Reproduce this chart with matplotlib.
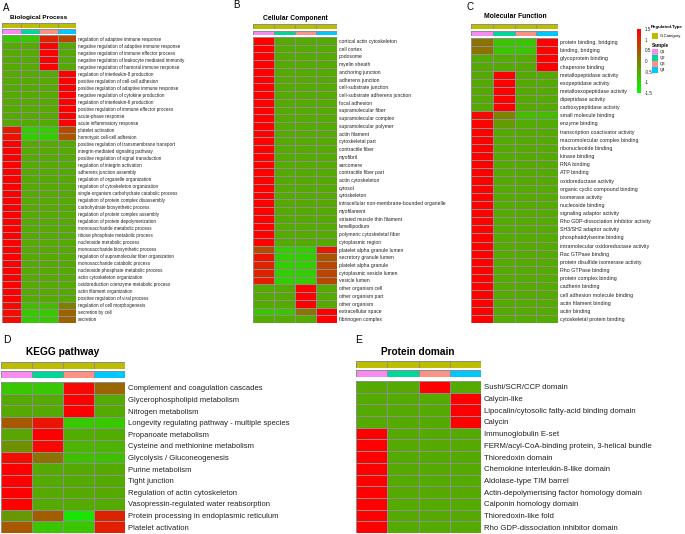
import numpy as np
import matplotlib
matplotlib.use("Agg")
import matplotlib.pyplot as plt
from matplotlib.colors import LinearSegmentedColormap, ListedColormap, Normalize
from matplotlib.patches import Rectangle
import matplotlib.cm as cm

plt.rcParams['font.family'] = ['Liberation Sans', 'DejaVu Sans']

samples = ["Q1", "Q2", "Q3", "Q4"]
sample_colors = ["#F88BF0", "#00D89A", "#FA9385", "#00C8FF"]
category_color = "#BDBD00"

bp_terms = [
    "regulation of adaptive immune response",
    "negative regulation of adaptive immune response",
    "negative regulation of immune effector process",
    "negative regulation of leukocyte mediated immunity",
    "negative regulation of humoral immune response",
    "regulation of interleukin-8 production",
    "positive regulation of cell-cell adhesion",
    "positive regulation of adaptive immune response",
    "negative regulation of cytokine production",
    "regulation of interleukin-6 production",
    "positive regulation of immune effector process",
    "acute-phase response",
    "acute inflammatory response",
    "platelet activation",
    "homotypic cell-cell adhesion",
    "positive regulation of transmembrane transport",
    "integrin-mediated signaling pathway",
    "positive regulation of signal transduction",
    "regulation of integrin activation",
    "adherens junction assembly",
    "regulation of organelle organization",
    "regulation of cytoskeleton organization",
    "single-organism carbohydrate catabolic process",
    "regulation of protein complex disassembly",
    "carbohydrate biosynthetic process",
    "regulation of protein complex assembly",
    "regulation of protein depolymerization",
    "monosaccharide metabolic process",
    "ribose phosphate metabolic process",
    "nucleoside metabolic process",
    "monosaccharide biosynthetic process",
    "regulation of supramolecular fiber organization",
    "monosaccharide catabolic process",
    "nucleoside phosphate metabolic process",
    "actin cytoskeleton organization",
    "oxidoreduction coenzyme metabolic process",
    "actin filament organization",
    "positive regulation of viral process",
    "regulation of cell morphogenesis",
    "secretion by cell",
    "secretion",
]
bp_values = (
    [[-0.85, -0.85, 1.05, 0.65]]
    + [[-0.5, -0.5, 1.5, -0.5]] * 4
    + [[-0.5, -0.5, -0.5, 1.5]] * 8
    + [[1.2, -0.9, -0.9, 0.6], [1.3, -0.9, -0.9, 0.5]]
    + [[1.5, -0.5, -0.5, -0.5]] * 23
    + [[1.4, -0.7, -0.7, 0.0], [1.35, -0.85, -0.85, 0.35], [1.35, -0.85, -0.85, 0.35]]
)

cc_terms = [
    "cortical actin cytoskeleton", "cell cortex", "podosome", "myelin sheath",
    "anchoring junction", "adherens junction", "cell-substrate junction",
    "cell-substrate adherens junction", "focal adhesion", "supramolecular fiber",
    "supramolecular complex", "supramolecular polymer", "actin filament",
    "cytoskeletal part", "contractile fiber", "myofibril", "sarcomere",
    "contractile fiber part", "actin cytoskeleton", "cytosol", "cytoskeleton",
    "intracellular non-membrane-bounded organelle", "myofilament",
    "striated muscle thin filament", "lamellipodium", "polymeric cytoskeletal fiber",
    "cytoplasmic region", "platelet alpha granule lumen", "secretory granule lumen",
    "platelet alpha granule", "cytoplasmic vesicle lumen", "vesicle lumen",
    "other organism cell", "other organism part", "other organism",
    "extracellular space", "fibrinogen complex",
]
cc_values = (
    [[1.5, -0.5, -0.5, -0.5]] * 27
    + [[0.6, -0.9, -0.9, 1.2], [1.3, -0.9, -0.9, 0.5], [1.1, -0.9, -0.9, 0.7],
       [1.1, -0.9, -0.9, 0.7], [1.15, -0.9, -0.9, 0.65]]
    + [[-0.5, -0.5, 1.5, -0.5]] * 3
    + [[-0.8, -0.8, 0.1, 1.5], [-0.5, -0.5, -0.5, 1.5]]
)

mf_terms = [
    "protein binding, bridging", "binding, bridging", "glycoprotein binding",
    "chaperone binding", "metallopeptidase activity", "exopeptidase activity",
    "metalloexopeptidase activity", "dipeptidase activity", "carboxypeptidase activity",
    "small molecule binding", "enzyme binding", "transcription coactivator activity",
    "macromolecular complex binding", "ribonucleotide binding", "kinase binding",
    "RNA binding", "ATP binding", "oxidoreductase activity",
    "organic cyclic compound binding", "isomerase activity", "nucleoside binding",
    "signaling adaptor activity", "Rho GDP-dissociation inhibitor activity",
    "SH3/SH2 adaptor activity", "phosphatidylserine binding",
    "intramolecular oxidoreductase activity", "Rac GTPase binding",
    "protein disulfide isomerase activity", "Rho GTPase binding",
    "protein complex binding", "cadherin binding", "cell adhesion molecule binding",
    "actin filament binding", "actin binding", "cytoskeletal protein binding",
]
mf_values = (
    [[0.15, -0.8, -0.8, 1.45]] * 2
    + [[-0.5, -0.5, -0.5, 1.5]] * 2
    + [[-0.5, 1.5, -0.5, -0.5]] * 5
    + [[1.4, -0.05, -0.7, -0.7], [1.45, -0.35, -0.55, -0.55]]
    + [[1.5, -0.5, -0.5, -0.5]] * 24
)

kegg_terms = [
    "Complement and coagulation cascades", "Glycerophospholipid metabolism",
    "Nitrogen metabolism", "Longevity regulating pathway - multiple species",
    "Propanoate metabolism", "Cysteine and methionine metabolism",
    "Glycolysis / Gluconeogenesis", "Purine metabolism", "Tight junction",
    "Regulation of actin cytoskeleton", "Vasopressin-regulated water reabsorption",
    "Protein processing in endoplasmic reticulum", "Platelet activation",
]
kegg_values = [
    [-0.85, -0.85, 1.4, 0.3],
    [-0.5, -0.5, 1.5, -0.5],
    [-0.5, -0.5, 1.5, -0.5],
    [0.45, 1.25, -0.85, -0.85],
    [-0.45, 1.5, -0.55, -0.55],
    [-0.2, 1.4, -0.6, -0.6],
    [1.35, 0.15, -0.75, -0.75],
    [1.5, -0.5, -0.5, -0.5],
    [1.5, -0.5, -0.5, -0.5],
    [1.5, -0.5, -0.5, -0.5],
    [1.5, -0.5, -0.5, -0.5],
    [-0.3, 0.4, -1.2, 1.1],
    [0.45, -0.8, -0.8, 1.15],
]

pd_terms = [
    "Sushi/SCR/CCP domain", "Calycin-like",
    "Lipocalin/cytosolic fatty-acid binding domain", "Calycin",
    "Immunoglobulin E-set", "FERM/acyl-CoA-binding protein, 3-helical bundle",
    "Thioredoxin domain", "Chemokine interleukin-8-like domain",
    "Aldolase-type TIM barrel", "Actin-depolymerising factor homology domain",
    "Calponin homology domain", "Thioredoxin-like fold",
    "Rho GDP-dissociation inhibitor domain",
]
pd_values = (
    [[-0.5, -0.5, 1.5, -0.5]]
    + [[-0.5, -0.5, -0.5, 1.5]] * 3
    + [[1.5, -0.5, -0.5, -0.5]] * 9
)

W, H = 685, 534
fig = plt.figure(figsize=(W / 100, H / 100), dpi=100)
cmap = LinearSegmentedColormap.from_list("gr", ["#00FF00", "#FF0000"])
norm = Normalize(-1.5, 1.5)
GRID = "#8E8E8E"


def px_axes(x0, y0, x1, y1):
    return fig.add_axes([x0 / W, 1 - y1 / H, (x1 - x0) / W, (y1 - y0) / H])


def strip(x0, y0, x1, y1, colors, lw):
    ax = px_axes(x0, y0, x1, y1)
    ax.pcolormesh(np.arange(len(colors))[None, :], cmap=ListedColormap(colors),
                  vmin=-0.5, vmax=len(colors) - 0.5, edgecolors=GRID, linewidth=lw)
    ax.set_xticks([]); ax.set_yticks([])
    for s in ax.spines.values():
        s.set_visible(False)
    ax.set_xlim(0, len(colors)); ax.set_ylim(0, 1)


def panel(x0, x1, yr0, yr1, ys0, ys1, y0, y1, terms, values, fs, lw=0.5, pad=1.5):
    strip(x0, yr0, x1, yr1, [category_color] * len(samples), lw)
    strip(x0, ys0, x1, ys1, sample_colors, lw)
    ax = px_axes(x0, y0, x1, y1)
    data = np.array(values)
    ax.pcolormesh(data, cmap=cmap, norm=norm, edgecolors=GRID, linewidth=lw)
    ax.set_xlim(0, data.shape[1]); ax.set_ylim(data.shape[0], 0)
    ax.set_xticks([])
    ax.set_yticks(np.arange(len(terms)) + 0.5)
    ax.set_yticklabels(terms, fontsize=fs, color="#222222")
    ax.yaxis.tick_right()
    ax.tick_params(axis="y", length=0, pad=pad)
    for s in ax.spines.values():
        s.set_visible(False)
    return ax


panel(2, 76, 23, 28, 29, 33.5, 35, 323, bp_terms, bp_values, 3.3, lw=0.45, pad=1.2)
panel(253, 337, 24, 29, 30.5, 35, 37, 323, cc_terms, cc_values, 3.6, lw=0.45, pad=1.2)
panel(471, 558, 24, 29, 30.5, 35.5, 38, 323, mf_terms, mf_values, 3.8, lw=0.45, pad=1.2)
panel(1, 125, 362, 369, 370.5, 378, 382, 533, kegg_terms, kegg_values, 5.5, lw=0.6, pad=2)
panel(356, 481, 361, 368, 369.5, 377, 381, 533, pd_terms, pd_values, 5.6, lw=0.6, pad=2)

# colorbar
cax = px_axes(637, 29, 641, 93)
cb = fig.colorbar(cm.ScalarMappable(norm=norm, cmap=cmap), cax=cax,
                  ticks=[-1.5, -1, -0.5, 0, 0.5, 1, 1.5])
cb.outline.set_visible(False)
cb.ax.set_yticklabels(["-1.5", "-1", "-0.5", "0", "0.5", "1", "1.5"])
cb.ax.tick_params(labelsize=3.3, length=0, pad=2.5, colors="#222222")

# overlay for titles and legend
ov = fig.add_axes([0, 0, 1, 1], zorder=-1)
ov.set_xlim(0, W); ov.set_ylim(H, 0); ov.axis("off")

ov.text(3, 8, "A", fontsize=7, va="center", ha="left")
ov.text(233, 5, "B", fontsize=7, va="center", ha="left")
ov.text(467, 7, "C", fontsize=7, va="center", ha="left")
ov.text(3, 340, "D", fontsize=7.5, va="center", ha="left")
ov.text(355, 340, "E", fontsize=7.5, va="center", ha="left")

ov.text(39, 17, "Biological Process", fontsize=4.6, fontweight="bold", ha="center", va="center")
ov.text(295, 18, "Cellular Component", fontsize=4.9, fontweight="bold", ha="center", va="center")
ov.text(515, 17, "Molecular Function", fontsize=4.9, fontweight="bold", ha="center", va="center")
ov.text(63, 352, "KEGG pathway", fontsize=7.3, fontweight="bold", ha="center", va="center")
ov.text(418, 352, "Protein domain", fontsize=7.3, fontweight="bold", ha="center", va="center")

ov.text(651, 27, "Regulated.Type", fontsize=3.2, fontweight="bold", ha="left", va="center")
ov.add_patch(Rectangle((652, 32.5), 6, 6, facecolor=category_color, edgecolor="none"))
ov.text(660, 35.5, "G-Category", fontsize=3.0, ha="left", va="center")
ov.text(652, 45, "Sample", fontsize=3.4, fontweight="bold", ha="left", va="center")
for i, (s, c) in enumerate(zip(samples, sample_colors)):
    ov.add_patch(Rectangle((652, 49 + 6 * i), 6, 6, facecolor=c, edgecolor="none"))
    ov.text(660, 52 + 6 * i, s, fontsize=3.0, ha="left", va="center")

fig.savefig("out.png", dpi=100)
